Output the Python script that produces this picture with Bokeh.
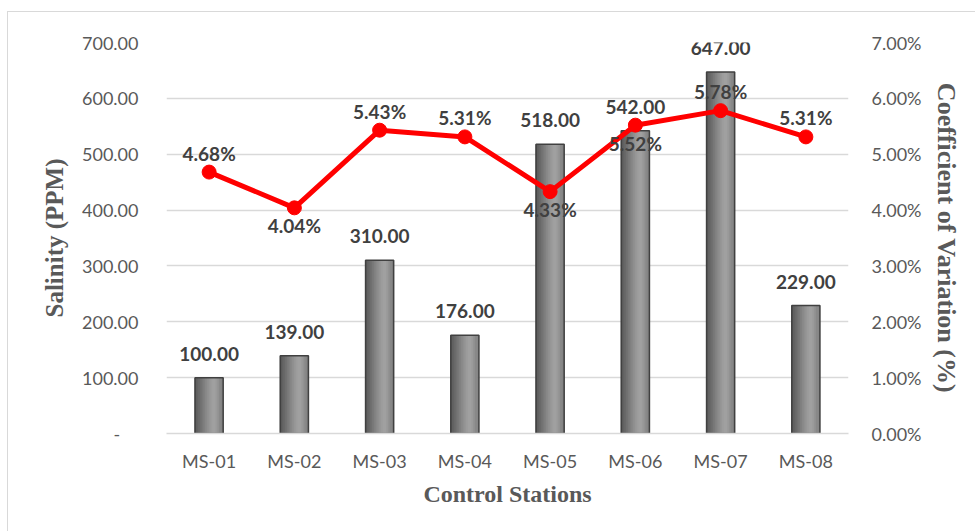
from bokeh.plotting import figure
from bokeh.models import (ColumnDataSource, Range1d, LinearAxis, FixedTicker,
                          PrintfTickFormatter, FactorRange, LabelSet)
from bokeh.transform import dodge
from bokeh.core.properties import value
from bokeh.embed import file_html
from bokeh.resources import INLINE

stations = ["MS-01", "MS-02", "MS-03", "MS-04", "MS-05", "MS-06", "MS-07", "MS-08"]
salinity = [100, 139, 310, 176, 518, 542, 647, 229]
cv_pct = [4.68, 4.04, 5.43, 5.31, 4.33, 5.52, 5.78, 5.31]
cv_label_side = ["above", "below", "above", "above", "below", "below", "above", "above"]
left_ticks = [0, 100, 200, 300, 400, 500, 600, 700]
right_ticks = [0, 1, 2, 3, 4, 5, 6, 7]

TICK_FONT = "Lato"
TITLE_FONT = "Liberation Serif"
GREY = "#595959"
DARK = "#404040"

p = figure(width=968, height=520, x_range=FactorRange(*stations), y_range=Range1d(0, 700),
           output_backend="svg", toolbar_location=None,
           min_border_left=158, min_border_right=128, min_border_top=30, min_border_bottom=99,
           styles={"margin-left": "7px", "margin-top": "11px",
                   "border-left": "1px solid #d9d9d9", "border-top": "1px solid #d9d9d9"})
p.outline_line_color = None
p.background_fill_color = "white"
p.border_fill_color = "white"

src = ColumnDataSource(dict(
    st=stations, sal=salinity, cv=cv_pct,
    sal_txt=["%.2f" % v for v in salinity],
    cv_txt=["%.2f%%" % v for v in cv_pct],
    cv_off=[-19 if s == "above" else 18 for s in cv_label_side],
))

# gradient bars built from narrow strips
bar_w = 0.33
strip_colors = ["#5a5a5a", "#616161", "#686868", "#707070", "#787878", "#808080",
                "#888888", "#8f8f8f", "#969696", "#9c9c9c", "#a0a0a0", "#a0a0a0",
                "#9a9a9a", "#929292", "#888888", "#7e7e7e"]
n = len(strip_colors)
sw = bar_w / n
for i, c in enumerate(strip_colors):
    off = -bar_w / 2 + sw * (i + 0.5)
    w = sw * 1.6 if i < n - 1 else sw
    p.vbar(x=dodge("st", off, range=p.x_range), top="sal", width=w, source=src,
           fill_color=c, line_color=None)
p.vbar(x="st", top="sal", width=bar_w, source=src, fill_color=None,
       line_color=DARK, line_width=1.5)

bar_labels = LabelSet(x="st", y="sal", text="sal_txt", source=src, y_offset=24,
                      text_align="center", text_baseline="middle",
                      text_font=value(TICK_FONT), text_font_style="bold",
                      text_font_size="19px", text_color=DARK)
p.add_layout(bar_labels)

# secondary axis
p.extra_y_ranges = {"cv": Range1d(0, 7)}
p.line(x="st", y="cv", source=src, y_range_name="cv", line_color="#ff0000", line_width=5)
p.scatter(x="st", y="cv", source=src, y_range_name="cv", size=14,
          fill_color="#ff0000", line_color="#ff0000")
p.text(x="st", y="cv", text="cv_txt", source=src, y_range_name="cv", y_offset="cv_off",
       text_align="center", text_baseline="middle",
       text_font=value(TICK_FONT), text_font_style="bold",
       text_font_size="19px", text_color=DARK)

# grid
p.xgrid.grid_line_color = None
p.ygrid.ticker = FixedTicker(ticks=left_ticks)
p.ygrid.grid_line_color = "#d9d9d9"
p.ygrid.grid_line_width = 1.3

# left axis
ya = p.yaxis[0]
ya.ticker = FixedTicker(ticks=left_ticks)
ya.formatter = PrintfTickFormatter(format="%.2f")
ya.major_label_overrides = {0: "-\u00a0\u00a0\u00a0\u00a0"}
ya.axis_line_color = None
ya.major_tick_line_color = None
ya.minor_tick_line_color = None
ya.major_label_standoff = 22
ya.major_label_text_font = TICK_FONT
ya.major_label_text_font_size = "18px"
ya.major_label_text_color = GREY
ya.axis_label = "Salinity (PPM)"
ya.axis_label_text_font = TITLE_FONT
ya.axis_label_text_font_style = "bold"
ya.axis_label_text_font_size = "25px"
ya.axis_label_text_color = GREY
ya.axis_label_standoff = 11

ra = LinearAxis(y_range_name="cv", ticker=FixedTicker(ticks=right_ticks),
                formatter=PrintfTickFormatter(format="%.2f%%"))
ra.axis_line_color = None
ra.major_tick_line_color = None
ra.minor_tick_line_color = None
ra.major_label_standoff = 17
ra.major_label_text_font = TICK_FONT
ra.major_label_text_font_size = "18px"
ra.major_label_text_color = GREY
ra.axis_label = "Coefficient of Variation (%)"
ra.axis_label_text_font = TITLE_FONT
ra.axis_label_text_font_style = "bold"
ra.axis_label_text_font_size = "26px"
ra.axis_label_text_color = GREY
ra.axis_label_standoff = 8
p.add_layout(ra, "right")

xa = p.xaxis[0]
xa.axis_line_color = "#d9d9d9"
xa.axis_line_width = 1.3
xa.major_tick_line_color = None
xa.minor_tick_line_color = None
xa.major_label_standoff = 10
xa.major_label_text_font = TICK_FONT
xa.major_label_text_font_size = "18px"
xa.major_label_text_color = GREY
xa.axis_label = "Control Stations"
xa.axis_label_text_font = TITLE_FONT
xa.axis_label_text_font_style = "bold"
xa.axis_label_text_font_size = "24px"
xa.axis_label_text_color = GREY
xa.axis_label_standoff = 6

open("out.html", "w").write(file_html(p, INLINE))
